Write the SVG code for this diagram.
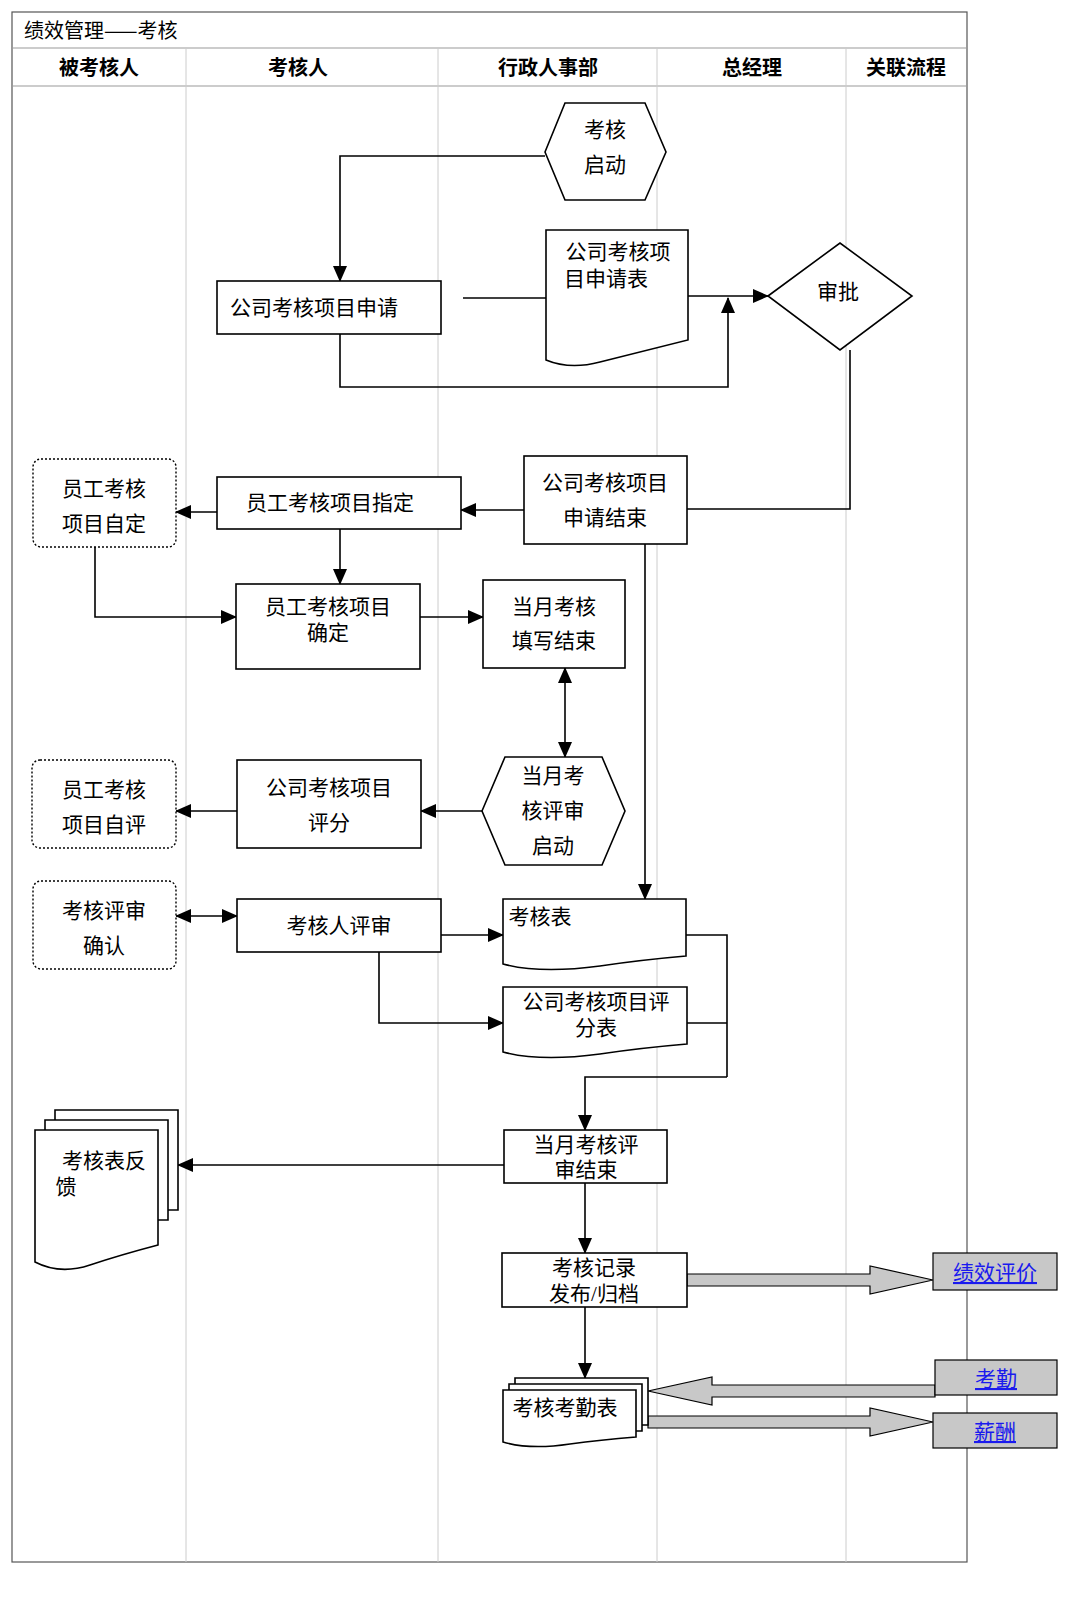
<svg xmlns="http://www.w3.org/2000/svg" width="1080" height="1600" viewBox="0 0 1080 1600">
<defs>
<style>
text{font-family:"Liberation Serif","Noto Sans CJK SC",serif;font-size:21px;fill:#000;text-anchor:middle}
.h{font-family:"Noto Sans CJK SC",sans-serif;font-weight:bold;font-size:20px}
.n{fill:#fff;stroke:#000;stroke-width:1.6}
.d{fill:#fff;stroke:#000;stroke-width:1.4;stroke-dasharray:2,2}
.c{fill:none;stroke:#000;stroke-width:1.6}
.g{fill:#c8c8c8;stroke:#000;stroke-width:1.2}
.lk{fill:#1a1aee;text-decoration:underline}
</style>
<marker id="a" markerWidth="16" markerHeight="16" refX="15" refY="8" orient="auto-start-reverse" markerUnits="userSpaceOnUse" viewBox="0 0 16 16"><path d="M0,1L16,8L0,15z" fill="#000"/></marker>
</defs>
<rect width="1080" height="1600" fill="#fff"/>
<g id="frame">
<rect x="12" y="12" width="955" height="1550" fill="none" stroke="#555" stroke-width="1.2"/>
<line x1="12" y1="48" x2="967" y2="48" stroke="#999"/>
<line x1="12" y1="86" x2="967" y2="86" stroke="#999"/>
<g stroke="#ccc"><line x1="186" y1="48" x2="186" y2="1562"/><line x1="438" y1="48" x2="438" y2="1562"/><line x1="657" y1="48" x2="657" y2="1562"/><line x1="846" y1="48" x2="846" y2="1562"/></g>
<text x="24" y="38" style="text-anchor:start;font-family:'Noto Sans CJK SC',sans-serif;font-size:20px">绩效管理——考核</text>
<text class="h" x="99" y="75">被考核人</text><text class="h" x="298" y="75">考核人</text><text class="h" x="548" y="75">行政人事部</text><text class="h" x="752" y="75">总经理</text><text class="h" x="906" y="75">关联流程</text>
</g>
<g id="connectors">
<path class="c" d="M545,156H340V281" marker-end="url(#a)"/>
<path class="c" d="M463,298H546"/>
<path class="c" d="M688,296H768" marker-end="url(#a)"/>
<path class="c" d="M340,334V387H728V298" marker-end="url(#a)"/>
<path class="c" d="M850,350V509H687"/>
<path class="c" d="M524,510H461" marker-end="url(#a)"/>
<path class="c" d="M217,512H176" marker-end="url(#a)"/>
<path class="c" d="M340,529V584" marker-end="url(#a)"/>
<path class="c" d="M95,547V617H236" marker-end="url(#a)"/>
<path class="c" d="M420,617H483" marker-end="url(#a)"/>
<path class="c" d="M565,668V757" marker-start="url(#a)" marker-end="url(#a)"/>
<path class="c" d="M482,811H421" marker-end="url(#a)"/>
<path class="c" d="M237,811H176" marker-end="url(#a)"/>
<path class="c" d="M645,544V899" marker-end="url(#a)"/>
<path class="c" d="M176,916H237" marker-start="url(#a)" marker-end="url(#a)"/>
<path class="c" d="M441,935H503" marker-end="url(#a)"/>
<path class="c" d="M379,952V1023H503" marker-end="url(#a)"/>
<path class="c" d="M686,935H727V1077M687,1023H727"/>
<path class="c" d="M727,1077H585V1130" marker-end="url(#a)"/>
<path class="c" d="M504,1165H178" marker-end="url(#a)"/>
<path class="c" d="M585,1183V1253" marker-end="url(#a)"/>
<path class="c" d="M585,1307V1378" marker-end="url(#a)"/>
<path class="g" d="M687,1274H870V1266L933,1280L870,1294V1286H687z"/>
<path class="g" d="M935,1385H712V1377L648,1391L712,1405V1397H935z"/>
<path class="g" d="M648,1416H870V1408L933,1422L870,1436V1428H648z"/>
</g>
<g id="n1"><path class="n" d="M545,152L565,103H645L666,152L645,200H565z"/><text x="605" y="137">考核</text><text x="605" y="172">启动</text></g>
<g id="n2"><path class="n" d="M546,230H688V340Q640,352 600,362Q570,370 546,360z"/><text x="618" y="259">公司考核项</text><text x="606" y="286">目申请表</text></g>
<g id="n3"><rect class="n" x="217" y="281" width="224" height="53"/><text x="314" y="315">公司考核项目申请</text></g>
<g id="n4"><path class="n" d="M768,296L840,243L912,296L840,350z"/><text x="838" y="299">审批</text></g>
<g id="n5"><rect class="n" x="524" y="456" width="163" height="88"/><text x="605" y="490">公司考核项目</text><text x="605" y="525">申请结束</text></g>
<g id="n6"><rect class="n" x="217" y="477" width="244" height="52"/><text x="330" y="510">员工考核项目指定</text></g>
<g id="n7"><rect class="d" x="33" y="459" width="143" height="88" rx="8"/><text x="104" y="496">员工考核</text><text x="104" y="531">项目自定</text></g>
<g id="n8"><rect class="n" x="236" y="584" width="184" height="85"/><text x="328" y="614">员工考核项目</text><text x="328" y="640">确定</text></g>
<g id="n9"><rect class="n" x="483" y="580" width="142" height="88"/><text x="554" y="614">当月考核</text><text x="554" y="648">填写结束</text></g>
<g id="n10"><path class="n" d="M482,811L505,757H602L625,811L602,865H505z"/><text x="553" y="783">当月考</text><text x="553" y="818">核评审</text><text x="553" y="853">启动</text></g>
<g id="n11"><rect class="n" x="237" y="760" width="184" height="88"/><text x="329" y="795">公司考核项目</text><text x="329" y="830">评分</text></g>
<g id="n12"><rect class="d" x="32" y="760" width="144" height="88" rx="8"/><text x="104" y="797">员工考核</text><text x="104" y="832">项目自评</text></g>
<g id="n13"><rect class="d" x="33" y="881" width="143" height="88" rx="8"/><text x="104" y="918">考核评审</text><text x="104" y="953">确认</text></g>
<g id="n14"><rect class="n" x="237" y="899" width="204" height="53"/><text x="339" y="933">考核人评审</text></g>
<g id="n15"><path class="n" d="M503,899H686V956Q640,960 600,966Q540,974 503,964z"/><text x="540" y="924">考核表</text></g>
<g id="n16"><path class="n" d="M503,987H687V1044Q640,1048 600,1054Q540,1062 503,1052z"/><text x="596" y="1009">公司考核项目评</text><text x="596" y="1035">分表</text></g>
<g id="n17"><rect class="n" x="504" y="1130" width="163" height="53"/><text x="586" y="1152">当月考核评</text><text x="586" y="1177">审结束</text></g>
<g id="n18"><path class="n" d="M55,1110H178V1210H55z"/><path class="n" d="M45,1120H168V1220H45z"/><path class="n" d="M35,1130H158V1245Q120,1255 90,1265Q60,1275 35,1262z"/><text x="104" y="1168">考核表反</text><text x="66" y="1194">馈</text></g>
<g id="n19"><rect class="n" x="502" y="1253" width="185" height="54"/><text x="594" y="1275">考核记录</text><text x="594" y="1301">发布/归档</text></g>
<g id="n20"><path class="n" d="M515,1378H648V1425H515z"/><path class="n" d="M509,1384H642V1431H509z"/><path class="n" d="M503,1390H636V1437Q600,1440 570,1444Q530,1450 503,1442z"/><text x="565" y="1415">考核考勤表</text></g>
<g id="n21"><rect class="g" x="933" y="1253" width="124" height="37"/><text class="lk" x="995" y="1280">绩效评价</text></g>
<g id="n22"><rect class="g" x="935" y="1360" width="122" height="35"/><text class="lk" x="996" y="1386">考勤</text></g>
<g id="n23"><rect class="g" x="933" y="1413" width="124" height="35"/><text class="lk" x="995" y="1439">薪酬</text></g>
</svg>
